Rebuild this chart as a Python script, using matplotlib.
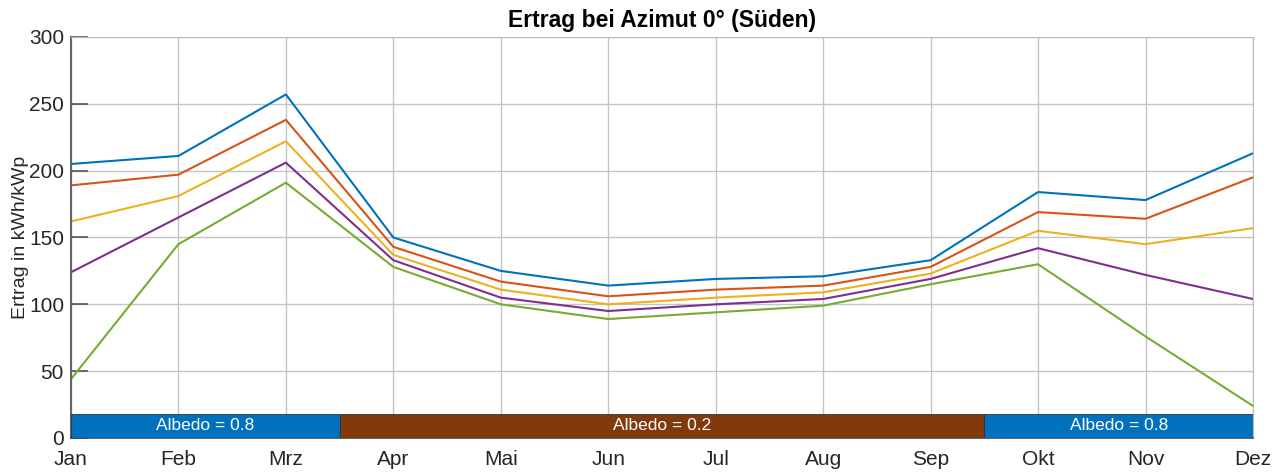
import numpy as np
import matplotlib.pyplot as plt

plt.rcParams['font.family'] = ['Liberation Sans', 'DejaVu Sans']

# Monate und Ertragswerte (kWh/kWp)
months = ['Jan', 'Feb', 'Mrz', 'Apr', 'Mai', 'Jun', 'Jul', 'Aug', 'Sep', 'Okt', 'Nov', 'Dez']
blue = [205, 211, 257, 150, 125, 114, 119, 121, 133, 184, 178, 213]
orange = [189, 197, 238, 143, 117, 106, 111, 114, 128, 169, 164, 195]
yellow = [162, 181, 222, 137, 111, 100, 105, 109, 123, 155, 145, 157]
purple = [124, 165, 206, 133, 105, 95, 100, 104, 119, 142, 122, 104]
green = [44, 145, 191, 128, 100, 89, 94, 99, 115, 130, 76, 24]

# Albedo-Bereiche (Start, Ende, Wert)
albedo_start = [0, 2.5, 8.5]
albedo_end = [2.5, 8.5, 11]
albedo_value = [0.8, 0.2, 0.8]
albedo_height = 18

colors = ['#0072BD', '#D95319', '#EDB120', '#7E2F8E', '#77AC30']
series = [blue, orange, yellow, purple, green]

fig = plt.figure(figsize=(12.88, 4.73), dpi=100)
ax = fig.add_axes([0.0551, 0.074, 0.9177, 0.8478])

x = np.arange(len(months))
for s, c in zip(series, colors):
    ax.plot(x, s, color=c, linewidth=1.5)

for a, b, v in zip(albedo_start, albedo_end, albedo_value):
    fc = '#0072BD' if v > 0.5 else '#803A0B'
    ax.bar((a + b) / 2, albedo_height, width=b - a, bottom=0, color=fc,
           edgecolor='#333333', linewidth=0.6, zorder=3)
    ax.text((a + b) / 2, albedo_height / 2, f'Albedo = {v}', color='white',
            ha='center', va='center', fontsize=12.5, zorder=4)

ax.set_xlim(0, 11)
ax.set_ylim(0, 300)
ax.set_xticks(x)
ax.set_xticklabels(months)
ax.set_yticks(range(0, 301, 50))
ax.grid(True, color='#c4c4c4', linewidth=1.0)
ax.set_axisbelow(True)
ax.tick_params(direction='in', length=12, width=1.2, labelsize=15, colors='#555555',
               labelcolor='#262626', top=False, right=False)
ax.tick_params(axis='x', pad=9)
ax.tick_params(axis='y', pad=5)
for sp in ax.spines.values():
    sp.set_color('#bbbbbb')
    sp.set_linewidth(0.8)
ax.spines['left'].set_color('#666666')
ax.spines['left'].set_linewidth(1.5)
ax.spines['bottom'].set_color('#444444')
ax.spines['bottom'].set_linewidth(1.2)

ax.set_ylabel('Ertrag in kWh/kWp', fontsize=14, color='#262626', labelpad=0)
ax.set_title('Ertrag bei Azimut 0° (Süden)', fontsize=16.5, fontweight='bold', pad=7)

fig.savefig('out.png', dpi=100)
